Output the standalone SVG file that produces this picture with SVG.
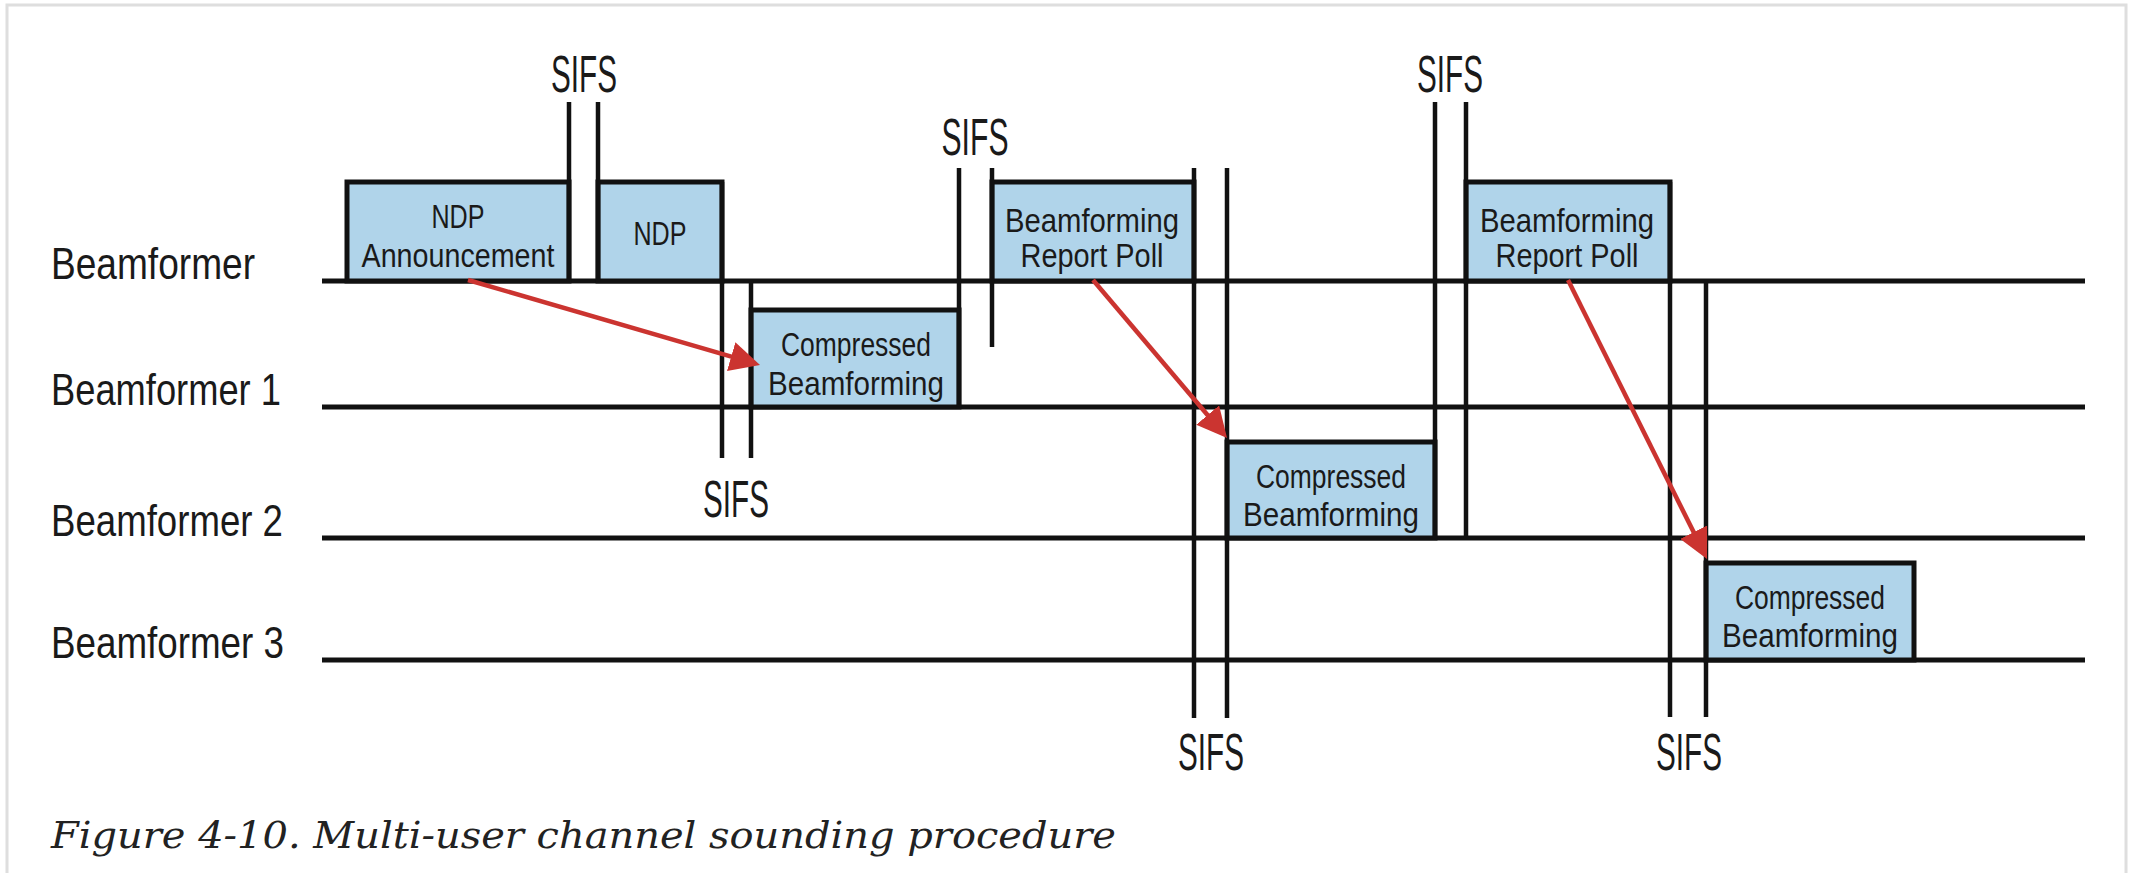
<svg xmlns="http://www.w3.org/2000/svg" width="2133" height="873" viewBox="0 0 2133 873">
  <defs>
    <style>
      .frame { fill: none; stroke: #dedede; stroke-width: 3; }
      .lane { stroke: #111; stroke-width: 5; }
      .tick { stroke: #111; stroke-width: 4.5; }
      .frame-box { fill: #b0d4ea; stroke: #111; stroke-width: 5; }
      .lane-label { font-family: "Liberation Sans Narrow", "Liberation Sans", Arial, sans-serif; font-size: 45px; fill: #1a1a1a; }
      .box-text { font-family: "Liberation Sans Narrow", "Liberation Sans", Arial, sans-serif; font-size: 33px; fill: #1a1a1a; text-anchor: middle; }
      .sifs { font-family: "Liberation Sans Narrow", "Liberation Sans", Arial, sans-serif; font-size: 51px; fill: #1a1a1a; text-anchor: middle; }
      .caption { font-family: "DejaVu Serif", "Liberation Serif", serif; font-style: italic; font-size: 37px; fill: #222; }
      .arrow { stroke: #cb3430; stroke-width: 4.5; fill: none; marker-end: url(#arrowhead); }
    </style>
    <marker id="arrowhead" markerUnits="userSpaceOnUse" viewBox="0 0 30 30" markerWidth="30" markerHeight="30" refX="10" refY="15" orient="auto">
      <path d="M0,0 L30,15 L0,30 z" fill="#cb3430"/>
    </marker>
  </defs>

  <!-- page frame -->
  <rect class="frame" x="7" y="5" width="2119" height="900"/>

  <!-- station timelines -->
  <g id="lanes">
    <line class="lane" x1="322" y1="281" x2="2085" y2="281"/>
    <line class="lane" x1="322" y1="407" x2="2085" y2="407"/>
    <line class="lane" x1="322" y1="538" x2="2085" y2="538"/>
    <line class="lane" x1="322" y1="660" x2="2085" y2="660"/>
    <text class="lane-label" x="51" y="279" textLength="204" lengthAdjust="spacingAndGlyphs">Beamformer</text>
    <text class="lane-label" x="51" y="405" textLength="230" lengthAdjust="spacingAndGlyphs">Beamformer 1</text>
    <text class="lane-label" x="51" y="536" textLength="232" lengthAdjust="spacingAndGlyphs">Beamformer 2</text>
    <text class="lane-label" x="51" y="658" textLength="233" lengthAdjust="spacingAndGlyphs">Beamformer 3</text>
  </g>

  <!-- frames on the air -->
  <g id="ndp-announcement">
    <rect class="frame-box" x="347" y="182" width="222" height="99"/>
    <text class="box-text" x="458" y="228" textLength="53" lengthAdjust="spacingAndGlyphs">NDP</text>
    <text class="box-text" x="458" y="267" textLength="193" lengthAdjust="spacingAndGlyphs">Announcement</text>
  </g>

  <g id="ndp">
    <rect class="frame-box" x="598" y="182" width="124" height="99"/>
    <text class="box-text" x="660" y="245" textLength="53" lengthAdjust="spacingAndGlyphs">NDP</text>
  </g>

  <g id="compressed-bf-1">
    <rect class="frame-box" x="751" y="310" width="208" height="97"/>
    <text class="box-text" x="856" y="356" textLength="150" lengthAdjust="spacingAndGlyphs">Compressed</text>
    <text class="box-text" x="856" y="395" textLength="176" lengthAdjust="spacingAndGlyphs">Beamforming</text>
  </g>

  <g id="report-poll-1">
    <rect class="frame-box" x="992" y="182" width="202" height="99"/>
    <text class="box-text" x="1092" y="232" textLength="174" lengthAdjust="spacingAndGlyphs">Beamforming</text>
    <text class="box-text" x="1092" y="267" textLength="143" lengthAdjust="spacingAndGlyphs">Report Poll</text>
  </g>

  <g id="compressed-bf-2">
    <rect class="frame-box" x="1227" y="442" width="208" height="96"/>
    <text class="box-text" x="1331" y="488" textLength="150" lengthAdjust="spacingAndGlyphs">Compressed</text>
    <text class="box-text" x="1331" y="526" textLength="176" lengthAdjust="spacingAndGlyphs">Beamforming</text>
  </g>

  <g id="report-poll-2">
    <rect class="frame-box" x="1466" y="182" width="204" height="99"/>
    <text class="box-text" x="1567" y="232" textLength="174" lengthAdjust="spacingAndGlyphs">Beamforming</text>
    <text class="box-text" x="1567" y="267" textLength="143" lengthAdjust="spacingAndGlyphs">Report Poll</text>
  </g>

  <g id="compressed-bf-3">
    <rect class="frame-box" x="1706" y="563" width="208" height="97"/>
    <text class="box-text" x="1810" y="609" textLength="150" lengthAdjust="spacingAndGlyphs">Compressed</text>
    <text class="box-text" x="1810" y="647" textLength="176" lengthAdjust="spacingAndGlyphs">Beamforming</text>
  </g>

  <!-- SIFS gap markers -->
  <g id="sifs-1">
    <line class="tick" x1="569" y1="102" x2="569" y2="281"/>
    <line class="tick" x1="598" y1="102" x2="598" y2="281"/>
    <text class="sifs" x="584" y="92" textLength="66" lengthAdjust="spacingAndGlyphs">SIFS</text>
  </g>

  <g id="sifs-2">
    <line class="tick" x1="722" y1="182" x2="722" y2="458"/>
    <line class="tick" x1="751" y1="281" x2="751" y2="458"/>
    <text class="sifs" x="736" y="517" textLength="66" lengthAdjust="spacingAndGlyphs">SIFS</text>
  </g>

  <g id="sifs-3">
    <line class="tick" x1="959" y1="168" x2="959" y2="407"/>
    <line class="tick" x1="992" y1="168" x2="992" y2="347"/>
    <text class="sifs" x="975" y="155" textLength="67" lengthAdjust="spacingAndGlyphs">SIFS</text>
  </g>

  <g id="sifs-4">
    <line class="tick" x1="1194" y1="168" x2="1194" y2="718"/>
    <line class="tick" x1="1227" y1="168" x2="1227" y2="718"/>
    <text class="sifs" x="1211" y="770" textLength="66" lengthAdjust="spacingAndGlyphs">SIFS</text>
  </g>

  <g id="sifs-5">
    <line class="tick" x1="1435" y1="102" x2="1435" y2="538"/>
    <line class="tick" x1="1466" y1="102" x2="1466" y2="538"/>
    <text class="sifs" x="1450" y="92" textLength="66" lengthAdjust="spacingAndGlyphs">SIFS</text>
  </g>

  <g id="sifs-6">
    <line class="tick" x1="1670" y1="182" x2="1670" y2="717"/>
    <line class="tick" x1="1706" y1="281" x2="1706" y2="717"/>
    <text class="sifs" x="1689" y="770" textLength="66" lengthAdjust="spacingAndGlyphs">SIFS</text>
  </g>

  <!-- request/response connectors -->
  <g id="connectors">
    <line class="arrow" x1="468" y1="280" x2="740.8" y2="359.4"/>
    <line class="arrow" x1="1093" y1="280" x2="1214.1" y2="422.7"/>
    <line class="arrow" x1="1568" y1="280" x2="1698.1" y2="541.1"/>
  </g>

  <text class="caption" x="51" y="848" textLength="1065" lengthAdjust="spacingAndGlyphs">Figure 4-10. Multi-user channel sounding procedure</text>
</svg>
